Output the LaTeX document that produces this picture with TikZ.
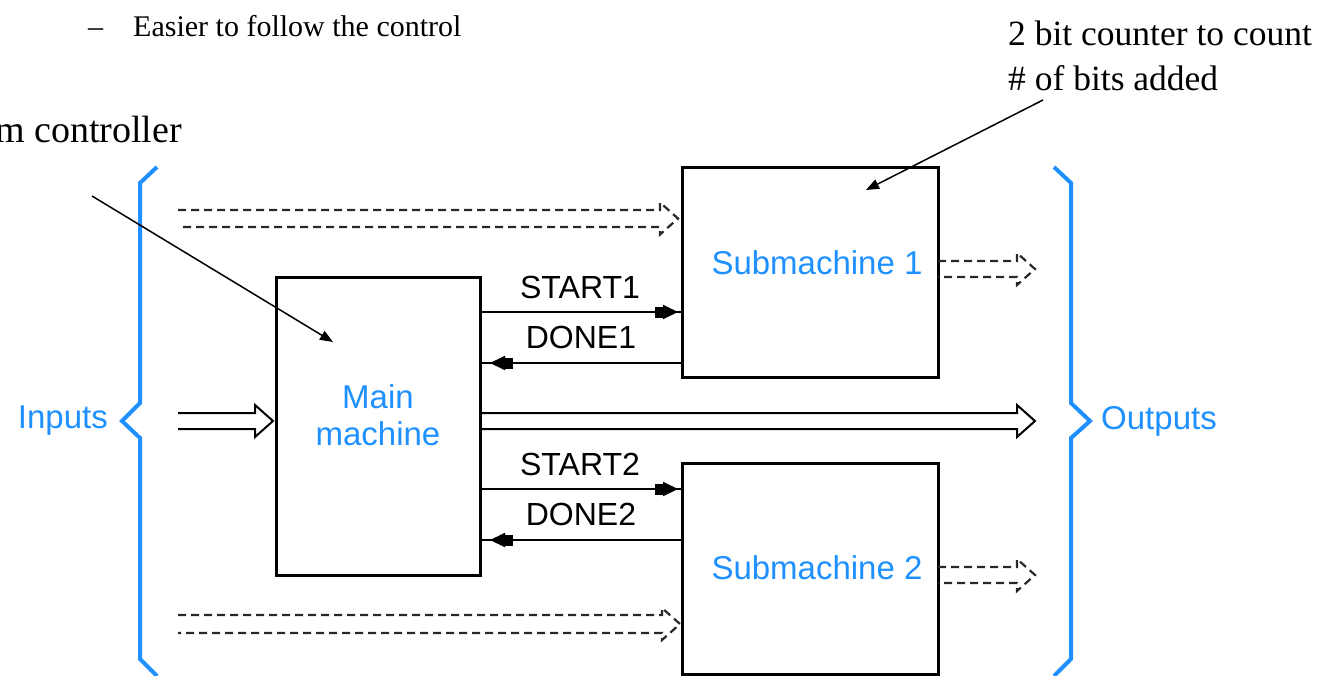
\documentclass[tikz,border=0pt]{standalone}
\usepackage{fontspec}
\setmainfont{Liberation Serif}
\newfontfamily\arialfont{Liberation Sans}
\usetikzlibrary{arrows.meta,calc,decorations.markings}
\definecolor{labelblue}{RGB}{30,144,255}
\definecolor{dashgray}{RGB}{40,40,40}

% outline (hollow) bus arrow: #1 style, #2 tail, #3 tip, #4 half gap between the two lines
\newcommand\hollowarrow[4]{%
  \draw[#1] ($(#2)+(0,-#4)$) -- ($(#3)+(-18,-#4)$) -- ($(#3)+(-18,-16)$) -- (#3)
     -- ($(#3)+(-18,16)$) -- ($(#3)+(-18,#4)$) -- ($(#2)+(0,#4)$);}

\begin{document}
\begin{tikzpicture}[x=1pt,y=-1pt,
  block/.style={draw=black,line width=3pt,inner sep=0pt,outer sep=0pt},
  bluelabel/.style={text=labelblue,font=\arialfont\fontsize{33}{37}\selectfont,inner sep=0pt,align=center},
  siglabel/.style={font=\arialfont\fontsize{32}{36}\selectfont,inner sep=0pt,anchor=base},
  note/.style={font=\fontsize{35.5}{42}\selectfont,inner sep=0pt,anchor=base west},
  bignote/.style={font=\fontsize{38}{46}\selectfont,inner sep=0pt,anchor=base west},
  smallnote/.style={font=\fontsize{30}{36}\selectfont,inner sep=0pt,anchor=base west},
  brace/.style={draw=labelblue,line width=4pt,line join=miter},
  sigline/.style={line width=2pt},
  sigtip/.tip={Rectangle[length=8pt,width=11pt]Triangle[length=15pt,width=14pt]},
  startsig/.style={sigline,postaction={decorate},
    decoration={markings,mark=at position -4pt with {\arrow{sigtip}}}},
  donesig/.style={sigline,postaction={decorate},
    decoration={markings,mark=at position -10pt with {\arrow{sigtip}}}},
  dashedbus/.style={draw=dashgray,line width=2.2pt,dash pattern=on 8pt off 5pt},
  solidbus/.style={draw=black,line width=2pt,line join=miter},
  pointer/.style={line width=1.5pt,-{Triangle[length=13pt,width=10pt]}}
]
\useasboundingbox (0,0) rectangle (1317,675);

% headings
\node[smallnote] (dash) at (88,36) {--};
\node[smallnote] (bullet) at (133,36) {Easier to follow the control};
\node[bignote] (ctrlnote) at (-5,142) {m controller};
\node[note] (cnt1) at (1008,45) {2 bit counter to count};
\node[note] (cnt2) at (1008,90) {\# of bits added};

% machines
\node[block,minimum width=204pt,minimum height=298pt] (main) at (378,426) {};
\node[block,minimum width=256pt,minimum height=210pt] (sub1) at (810,272) {};
\node[block,minimum width=256pt,minimum height=211pt] (sub2) at (810,568.5) {};

\node[bluelabel] (mainlbl) at (378,415) {Main\\machine};
\node[bluelabel] (sub1lbl) at (817,263) {Submachine 1};
\node[bluelabel] (sub2lbl) at (817,568) {Submachine 2};
\node[bluelabel,anchor=east] (inlbl) at (108,421) {Inputs};
\node[bluelabel,anchor=west] (outlbl) at (1101,421) {Outputs};

% braces
\draw[brace] (157,167) -- (140,183) -- (140,403) -- (122,421) -- (140,438) -- (140,659) -- (157,676);
\draw[brace] (1054,167) -- (1071,183) -- (1071,403) -- (1090,421) -- (1071,438) -- (1071,659) -- (1054,676);

% handshake signals
\coordinate (yS1) at (0,312);
\coordinate (yD1) at (0,363);
\coordinate (yS2) at (0,489);
\coordinate (yD2) at (0,540);
\draw[startsig] (main.east |- yS1) -- (sub1.west |- yS1);
\draw[donesig] (sub1.west |- yD1) -- (main.east |- yD1);
\draw[startsig] (main.east |- yS2) -- (sub2.west |- yS2);
\draw[donesig] (sub2.west |- yD2) -- (main.east |- yD2);
\node[siglabel] (s1lbl) at (580,298) {START1};
\node[siglabel] (d1lbl) at (581,348) {DONE1};
\node[siglabel] (s2lbl) at (580,475) {START2};
\node[siglabel] (d2lbl) at (581,525) {DONE2};

% buses
\coordinate (inA) at (178,218.5);
\coordinate (tipA) at ($(sub1.west |- inA)+(-4,0)$);
\coordinate (inB) at (178,624);
\coordinate (tipB) at ($(sub2.west |- inB)+(-2,0)$);
\coordinate (inM) at (178,421);
\coordinate (tipM) at ($(main.west |- inM)+(-3,0)$);
\coordinate (outM) at (main.east |- inM);
\coordinate (tipO) at (1035,421);
\coordinate (out1) at (sub1.east |- 0,269);
\coordinate (tip1) at (1035,269);
\coordinate (out2) at (sub2.east |- 0,575);
\coordinate (tip2) at (1035,575);

\hollowarrow{dashedbus}{inA}{tipA}{8.5}
\hollowarrow{dashedbus}{inB}{tipB}{9}
\hollowarrow{dashedbus}{out1}{tip1}{8}
\hollowarrow{dashedbus}{out2}{tip2}{8}
\hollowarrow{solidbus}{inM}{tipM}{8}
\hollowarrow{solidbus}{outM}{tipO}{8}

% callouts
\coordinate (ptrL) at (92,196);
\coordinate (ptrLtip) at (333,342);
\coordinate (ptrR) at (1043,100);
\coordinate (ptrRtip) at (866,190);
\draw[pointer] (ptrL) -- (ptrLtip);
\draw[pointer] (ptrR) -- (ptrRtip);
\end{tikzpicture}
\end{document}
